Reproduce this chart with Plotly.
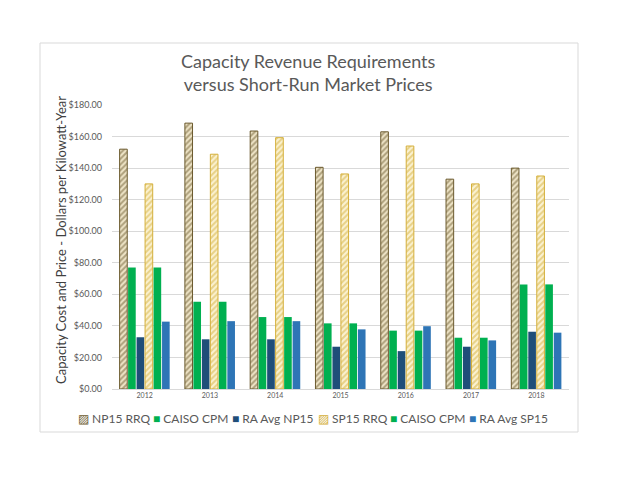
import plotly.graph_objects as go

# the page body adds an 8px offset, so the figure is drawn a bit smaller
OFF = 8
W, H = 625 - OFF, 482 - OFF

years = ["2012", "2013", "2014", "2015", "2016", "2017", "2018"]

np15_rrq = [152, 168.5, 163.5, 140.5, 163, 133, 140]
caiso_cpm = [77, 55.3, 45.6, 41.6, 37, 32.5, 66.3]
ra_avg_np15 = [32.8, 31.5, 31.5, 26.8, 24, 26.8, 36.3]
sp15_rrq = [130, 148.8, 159.3, 136.3, 154, 130, 135]
ra_avg_sp15 = [42.7, 43, 43, 37.8, 39.8, 30.8, 35.7]

y_ticks = [0, 20, 40, 60, 80, 100, 120, 140, 160, 180]
y_tick_text = ["${:.2f}".format(v) for v in y_ticks]

font = "Lato, 'Open Sans', sans-serif"

# series: name, values, colour, fill behind hatch, hatched?
series = [
    ("NP15 RRQ", np15_rrq, "#6B5A2E", "#EFE5C8", True),
    ("CAISO CPM", caiso_cpm, "#00B050", None, False),
    ("RA Avg NP15", ra_avg_np15, "#1F4E79", None, False),
    ("SP15 RRQ", sp15_rrq, "#D4AF3A", "#FBF2D2", True),
    ("CAISO CPM", caiso_cpm, "#00B050", None, False),
    ("RA Avg SP15", ra_avg_sp15, "#2E75B6", None, False),
]

fig = go.Figure()
for name, vals, col, bg, hatched in series:
    if hatched:
        marker = dict(color=bg, line=dict(color=col, width=1),
                      pattern=dict(shape="/", fgcolor=col, bgcolor=bg, size=4, solidity=0.5))
    else:
        marker = dict(color=col, line=dict(width=0))
    fig.add_trace(go.Bar(x=years, y=vals, name=name, marker=marker, showlegend=False))

# plot area in page pixels: x 112..569, y 105..389
ml, mt = 112 - OFF, 105 - OFF
mr, mb = W - (569 - OFF), H - (389 - OFF)
pw, ph = W - ml - mr, H - mt - mb


def px(x):
    return (x - OFF - ml) / pw


def py(y):
    return (H - mb - (y - OFF)) / ph


# outer chart frame
fig.add_shape(type="rect", xref="paper", yref="paper",
              x0=px(40), x1=px(578), y0=py(432), y1=py(43),
              line=dict(color="#D9D9D9", width=1), fillcolor="rgba(0,0,0,0)", layer="below")

fig.add_annotation(text="Capacity Revenue Requirements<br>versus Short-Run Market Prices",
                   xref="paper", yref="paper", x=px(308.5), y=py(73), xanchor="center", yanchor="middle",
                   showarrow=False, font=dict(family=font, size=18, color="#595959"))

fig.add_annotation(text="Capacity Cost and Price - Dollars per Kilowatt-Year",
                   xref="paper", yref="paper", x=px(61), y=py(240), textangle=-90,
                   xanchor="center", yanchor="middle", showarrow=False,
                   font=dict(family=font, size=13, color="#404040"))

# legend row along the bottom of the frame
legend_x = [76, 151, 230, 316, 388, 467]
for (name, vals, col, bg, hatched), lx in zip(series, legend_x):
    sym = "▨" if hatched else "■"
    fig.add_annotation(text="<span style='color:%s'>%s</span> %s" % (col, sym, name),
                       xref="paper", yref="paper", x=px(lx), y=py(418),
                       xanchor="left", yanchor="middle", showarrow=False,
                       font=dict(family=font, size=12, color="#595959"))

fig.update_layout(
    width=W, height=H,
    paper_bgcolor="white", plot_bgcolor="white",
    margin=dict(l=ml, r=mr, t=mt, b=mb),
    barmode="group", bargap=0.22, bargroupgap=0.1,
    font=dict(family=font, color="#595959"),
)
fig.update_xaxes(showline=True, linecolor="#D9D9D9", linewidth=1, ticks="",
                 tickfont=dict(size=7, color="#595959"))
fig.update_yaxes(range=[0, 180], tickvals=y_ticks, ticktext=y_tick_text,
                 showgrid=True, gridcolor="#D9D9D9", gridwidth=1, zeroline=False,
                 tickfont=dict(size=9, color="#595959"), ticks="", ticklabelstandoff=9)

fig.write_html("out.html")
